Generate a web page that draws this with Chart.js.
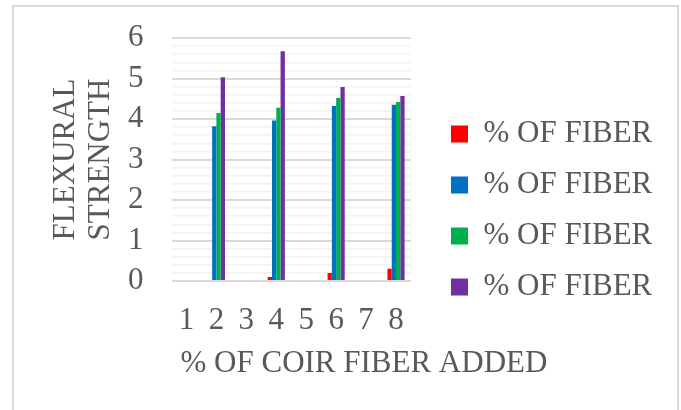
<!DOCTYPE html>
<html lang="en">
<head>
<meta charset="UTF-8">
<title>Flexural Strength</title>
<script src="https://cdn.jsdelivr.net/npm/chart.js"></script>
<style>
  html, body { margin: 0; padding: 0; background: #fff; overflow: hidden; }
  #wrap { position: relative; width: 681px; height: 410px; }
  #frame { position: absolute; left: 12px; top: 5px; width: 667px; height: 430px;
           border: 2px solid #d9d9d9; box-sizing: border-box; pointer-events: none; }
</style>
</head>
<body>
<div id="wrap">
  <canvas id="chart" width="681" height="410"></canvas>
  <div id="frame"></div>
</div>
<script>
// data (only even columns carry bars)
const categories = ['1', '2', '3', '4', '5', '6', '7', '8'];
const seriesNames = ['% OF FIBER', '% OF FIBER', '% OF FIBER', '% OF FIBER'];
const redValues    = [null, 0,    null, 0.1,  null, 0.2,  null, 0.3];
const blueValues   = [null, 3.82, null, 3.96, null, 4.32, null, 4.35];
const greenValues  = [null, 4.15, null, 4.28, null, 4.52, null, 4.42];
const purpleValues = [null, 5.03, null, 5.67, null, 4.79, null, 4.57];
const colors = ['#ff0000', '#0070c0', '#00b050', '#7030a0'];
const yMin = 0, yMax = 6, yStep = 0.2;
const yTitle = ['FLEXURAL', 'STRENGTH'];
const xTitle = '% OF COIR FIBER ADDED';

const FONT = '"Liberation Serif", "Times New Roman", serif';
const TEXT = '#595959';

const isMajor = v => Math.abs(v - Math.round(v)) < 1e-6;

// x title is wider than the plot, so draw it by hand (no squeeze)
const xTitlePlugin = {
    id: 'xTitle',
    afterDraw(chart) {
        const { ctx, chartArea, scales } = chart;
        ctx.save();
        ctx.font = '31px ' + FONT;
        ctx.fillStyle = TEXT;
        ctx.textAlign = 'left';
        ctx.textBaseline = 'middle';
        ctx.fillText(xTitle, chartArea.left + 9, scales.x.bottom - 19);
        ctx.restore();
    }
};

const allValues = [redValues, blueValues, greenValues, purpleValues];

new Chart(document.getElementById('chart'), {
    type: 'bar',
    data: {
        labels: categories,
        datasets: allValues.map((vals, i) => ({
            label: seriesNames[i],
            data: vals,
            backgroundColor: colors[i],
            borderWidth: 0,
            categoryPercentage: 0.573,
            barPercentage: 1
        }))
    },
    options: {
        responsive: false,
        animation: false,
        layout: { padding: { left: 48, right: 18.7, top: 38, bottom: 27 } },
        scales: {
            x: {
                grid: { display: false },
                border: { display: false },
                ticks: {
                    color: TEXT,
                    font: { family: FONT, size: 31 },
                    padding: 13,
                    maxRotation: 0,
                    autoSkip: false
                },
                afterFit: s => { s.height = 102; }
            },
            y: {
                min: yMin,
                max: yMax,
                border: { display: false },
                grid: {
                    drawTicks: false,
                    color: ctx => isMajor(ctx.tick.value) ? '#d9d9d9' : '#f2f2f2',
                    lineWidth: ctx => isMajor(ctx.tick.value) ? 2 : 1.5
                },
                ticks: {
                    stepSize: yStep,
                    autoSkip: false,
                    padding: 28,
                    color: TEXT,
                    font: { family: FONT, size: 31 },
                    callback: v => isMajor(v) ? Math.round(v) : ''
                },
                title: {
                    display: true,
                    text: yTitle,
                    color: TEXT,
                    font: { family: FONT, size: 31, lineHeight: '35px' },
                    padding: { top: 0, bottom: 10 }
                },
                // fixed width; tick padding must not push the plot top down
                afterFit: s => { s.width = 123.5; s.paddingTop = 0; s.paddingBottom = 0; }
            },
            // empty axis, just keeps a gap between plot and legend
            gap: {
                type: 'linear',
                position: 'right',
                display: true,
                grid: { display: false },
                border: { display: false },
                ticks: { display: false },
                afterFit: s => { s.width = 20; }
            }
        },
        plugins: {
            legend: {
                position: 'right',
                maxWidth: 300,
                labels: {
                    boxWidth: 17,
                    boxHeight: 17,
                    padding: 20,
                    color: TEXT,
                    font: { family: FONT, size: 31 }
                }
            },
            tooltip: { enabled: false }
        }
    },
    plugins: [xTitlePlugin]
});
</script>
</body>
</html>
